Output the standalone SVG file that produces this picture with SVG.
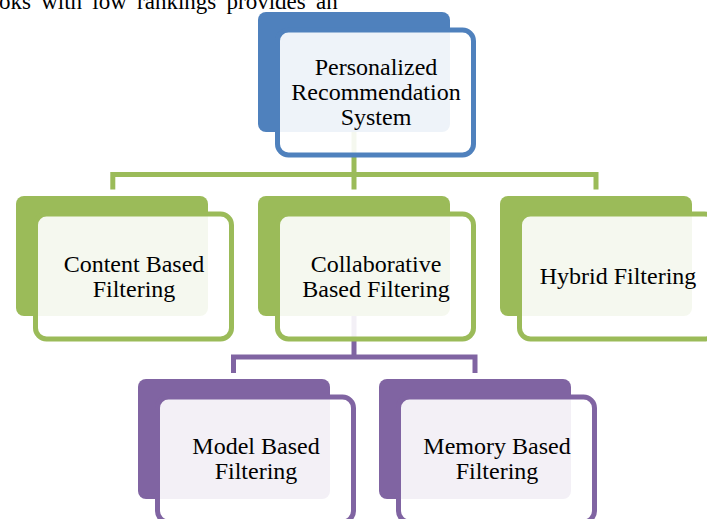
<svg xmlns="http://www.w3.org/2000/svg" width="707" height="519" viewBox="0 0 707 519">
  <style>
    text { font-family: "Liberation Serif", "Times New Roman", serif; fill: #000; }
    .label { font-size: 24px; text-anchor: middle; }
    .body { font-size: 23px; word-spacing: 4.5px; }
    .back { stroke: none; }
    .front { fill: #ffffff; fill-opacity: 0.9; stroke-width: 5; }
    .blue .back { fill: #4F81BD; } .blue .front { stroke: #4F81BD; }
    .green .back { fill: #9BBB59; } .green .front { stroke: #9BBB59; }
    .purple .back { fill: #8064A2; } .purple .front { stroke: #8064A2; }
    .link { fill: none; stroke-width: 5; stroke-linejoin: miter; stroke-linecap: butt; }
  </style>
  <rect width="707" height="519" fill="#ffffff"/>

  <!-- running text from the page above the chart -->
  <text class="body" x="-1" y="9">oks with low rankings provides an</text>

  <!-- connectors (drawn first, so the boxes sit on top) -->
  <g id="connectors">
    <path class="link" stroke="#9BBB59" d="M354 132 V174.5 M112.8 189.5 V174.5 H596 V189.5 M354 174.5 V189.5"/>
    <path class="link" stroke="#8064A2" d="M354 316 V357 M233.5 373 V357 H475 V373"/>
  </g>

  <g id="personalized-recommendation-system" class="blue">
    <rect class="back" x="258" y="12" width="192" height="120" rx="8"/>
    <rect class="front" x="277.5" y="30" width="196" height="125" rx="11"/>
    <text class="label" x="376" y="75">Personalized</text>
    <text class="label" x="376" y="100">Recommendation</text>
    <text class="label" x="376" y="125">System</text>
  </g>

  <g id="content-based-filtering" class="green">
    <rect class="back" x="16" y="196" width="192" height="120" rx="8"/>
    <rect class="front" x="35.5" y="214" width="196" height="125" rx="11"/>
    <text class="label" x="134" y="272">Content Based</text>
    <text class="label" x="134" y="297">Filtering</text>
  </g>

  <g id="collaborative-based-filtering" class="green">
    <rect class="back" x="258" y="196" width="192" height="120" rx="8"/>
    <rect class="front" x="277.5" y="214" width="196" height="125" rx="11"/>
    <text class="label" x="376" y="272">Collaborative</text>
    <text class="label" x="376" y="297">Based Filtering</text>
  </g>

  <g id="hybrid-filtering" class="green">
    <rect class="back" x="500" y="196" width="192" height="120" rx="8"/>
    <rect class="front" x="519.5" y="214" width="196" height="125" rx="11"/>
    <text class="label" x="618" y="284">Hybrid Filtering</text>
  </g>

  <g id="model-based-filtering" class="purple">
    <rect class="back" x="138" y="379" width="192" height="120" rx="8"/>
    <rect class="front" x="157.5" y="397" width="196" height="125" rx="11"/>
    <text class="label" x="256" y="454">Model Based</text>
    <text class="label" x="256" y="479">Filtering</text>
  </g>

  <g id="memory-based-filtering" class="purple">
    <rect class="back" x="379" y="379" width="192" height="120" rx="8"/>
    <rect class="front" x="398.5" y="397" width="196" height="125" rx="11"/>
    <text class="label" x="497" y="454">Memory Based</text>
    <text class="label" x="497" y="479">Filtering</text>
  </g>
</svg>
